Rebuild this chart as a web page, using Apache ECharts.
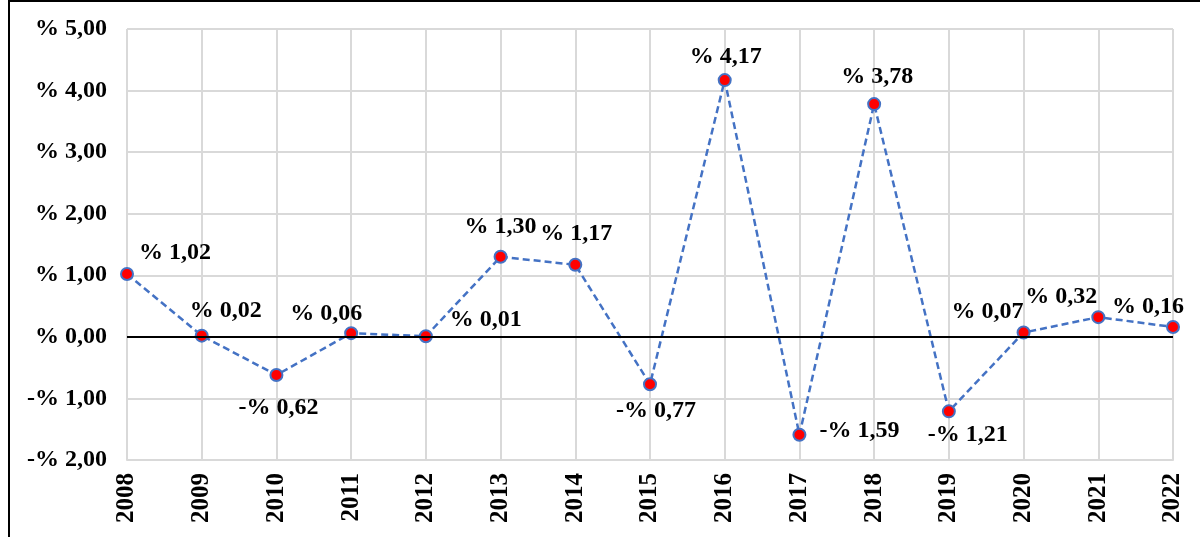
<!DOCTYPE html>
<html>
<head>
<meta charset="utf-8">
<script src="https://cdn.jsdelivr.net/npm/echarts@6/dist/echarts.min.js"></script>
<style>
  html, body { margin: 0; padding: 0; background: #fff; }
  #frame {
    position: absolute; left: 8px; top: 0;
    width: 1300px; height: 700px;
    border-left: 2px solid #000; border-top: 2px solid #000;
  }
  #chart { position: absolute; left: 0; top: 0; width: 1200px; height: 537px; }
</style>
</head>
<body>
<div id="frame"></div>
<div id="chart"></div>
<script>
const years = ['2008', '2009', '2010', '2011', '2012', '2013', '2014', '2015',
  '2016', '2017', '2018', '2019', '2020', '2021', '2022'];
const changes = [1.02, 0.02, -0.62, 0.06, 0.01, 1.30, 1.17, -0.77,
  4.17, -1.59, 3.78, -1.21, 0.07, 0.32, 0.16];
// where each value label sits relative to its point (px)
const labelOffsets = [[48, -21], [24, -25], [2, 33], [-25, -19], [60, -16],
  [0, -30], [1, -31], [6, 27], [1, -23], [60, -4], [3, -27], [19, 23],
  [-36, -21], [-37, -20], [-25, -20]];

const serif = '"Liberation Serif", "Times New Roman", serif';

function pct(v) {
  const s = Math.abs(v).toFixed(2).replace('.', ',');
  return (v < 0 ? '-% ' : '% ') + s;
}

const chart = echarts.init(document.getElementById('chart'));
chart.setOption({
  animation: false,
  grid: { left: 127, right: 27, top: 29, bottom: 77 },
  xAxis: {
    type: 'category',
    data: years,
    boundaryGap: false,
    axisLine: { show: true, onZero: false, lineStyle: { color: '#d9d9d9', width: 2 } },
    axisTick: { show: false },
    splitLine: { show: true, lineStyle: { color: '#d9d9d9', width: 2 } },
    axisLabel: {
      rotate: 90, margin: 13, interval: 0,
      color: '#000', fontFamily: serif, fontWeight: 'bold', fontSize: 25
    }
  },
  yAxis: {
    type: 'value',
    min: -2, max: 5, interval: 1,
    axisLine: { show: false },
    axisTick: { show: false },
    splitLine: { lineStyle: { color: '#d9d9d9', width: 2 } },
    axisLabel: {
      margin: 20, formatter: pct,
      color: '#000', fontFamily: serif, fontWeight: 'bold', fontSize: 24
    }
  },
  series: [{
    type: 'line',
    data: changes.map((v, i) => ({
      value: v,
      label: { offset: labelOffsets[i] }
    })),
    lineStyle: { color: '#4472C4', width: 2.5, type: [7, 4] },
    symbol: 'circle',
    symbolSize: 12,
    itemStyle: { color: '#ff0000', borderColor: '#4472C4', borderWidth: 2 },
    label: {
      show: true, position: 'inside',
      formatter: p => pct(p.value),
      color: '#000', fontFamily: serif, fontWeight: 'bold', fontSize: 24
    },
    markLine: {
      silent: true, symbol: 'none', label: { show: false },
      lineStyle: { color: '#000', width: 2, type: 'solid' },
      data: [{ yAxis: 0 }]
    },
    z: 3
  }]
});
</script>
</body>
</html>
